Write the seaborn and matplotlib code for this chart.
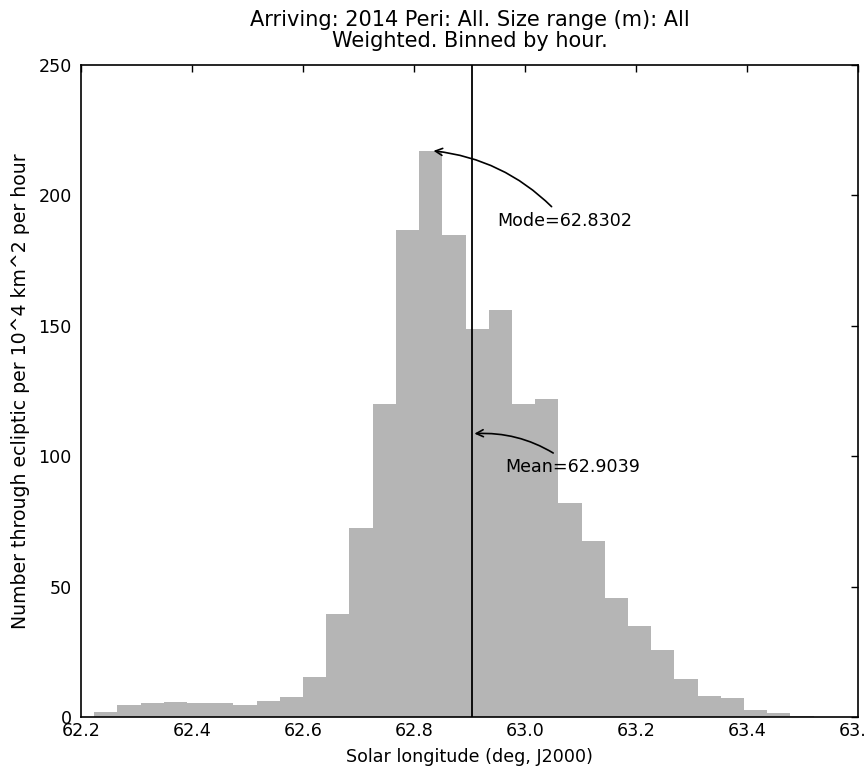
#!/usr/bin/env python
"""
Hourly-binned, weighted arrival histogram in solar longitude.
"""

import numpy as np
import pandas as pd
import matplotlib
matplotlib.use("Agg")
import matplotlib.pyplot as plt
import seaborn as sns

# bin layout (deg, J2000)
bin_start = 62.2238
bin_width = 0.04182

# weighted counts per hourly bin
counts = [2.0, 4.6, 5.2, 5.8, 5.2, 5.2, 4.6, 6.2, 7.8, 15.5,
          39.5, 72.4, 120.2, 186.6, 217.2, 184.9, 148.9, 156.2, 120.2, 121.8,
          82.2, 67.6, 45.6, 34.8, 25.8, 14.6, 8.2, 7.2, 2.6, 1.4,
          0.5]

mode_lon = 62.8302
mean_lon = 62.9039

x_ticks = [62.2, 62.4, 62.6, 62.8, 63.0, 63.2, 63.4, 63.6]
y_ticks = [0, 50, 100, 150, 200, 250]


def main():
    sns.set_style("white")
    plt.rcParams["font.family"] = ["DejaVu Sans"]
    plt.rcParams.update({
        "font.size": 12.6,
        "text.color": "black",
        "axes.labelcolor": "black",
        "xtick.color": "black",
        "ytick.color": "black",
        "xtick.direction": "in",
        "ytick.direction": "in",
        "xtick.top": True,
        "ytick.right": True,
        "xtick.major.size": 5,
        "ytick.major.size": 5,
        "axes.edgecolor": "black",
        "axes.linewidth": 1.2,
    })

    n = len(counts)
    bin_end = bin_start + bin_width * n
    centers = bin_start + bin_width * (np.arange(n) + 0.5)
    df = pd.DataFrame({"lon": centers, "w": counts})

    fig = plt.figure(figsize=(8.67, 7.72), dpi=100)
    ax = fig.add_axes([0.0934, 0.0712, 0.8962, 0.8446])

    sns.histplot(data=df, x="lon", weights="w", bins=n,
                 binrange=(bin_start, bin_end), ax=ax,
                 color="#b5b5b5", alpha=1.0, edgecolor="none", linewidth=0)

    ax.axvline(mean_lon, color="black", lw=1.3)

    top = max(counts)
    ax.annotate("Mode=%.4f" % mode_lon, xy=(mode_lon, top),
                xytext=(mode_lon + 0.12, 0.867 * top),
                arrowprops=dict(arrowstyle="->", color="black", lw=1.2,
                                connectionstyle="arc3,rad=0.2"),
                fontsize=12.6)
    ax.annotate("Mean=%.4f" % mean_lon, xy=(mean_lon, 0.5 * top),
                xytext=(mean_lon + 0.06, 0.433 * top),
                arrowprops=dict(arrowstyle="->", color="black", lw=1.2,
                                connectionstyle="arc3,rad=0.2"),
                fontsize=12.6)

    ax.set_xlim(62.2, 63.6)
    ax.set_ylim(0, 250)
    ax.set_xticks(x_ticks)
    ax.set_xticklabels(["%.1f" % t for t in x_ticks])
    ax.set_yticks(y_ticks)
    ax.tick_params(labelsize=12.6, width=1)
    ax.tick_params(axis="y", pad=6.5)
    for s in ax.spines.values():
        s.set_visible(True)

    ax.set_xlabel("Solar longitude (deg, J2000)", fontsize=12.6, labelpad=6)
    ax.set_ylabel("Number through ecliptic per 10^4 km^2 per hour", fontsize=13.6)
    ax.yaxis.set_label_coords(-0.065, 0.5)
    ax.set_title("Arriving: 2014 Peri: All. Size range (m): All\n"
                 "Weighted. Binned by hour.", fontsize=15, pad=13,
                 linespacing=1.04)

    fig.savefig("out.png", dpi=100)


if __name__ == "__main__":
    main()
